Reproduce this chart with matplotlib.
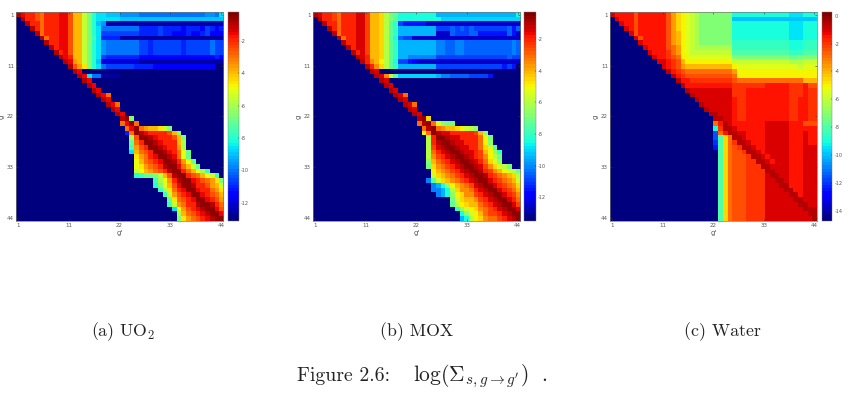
import numpy as np
import matplotlib
matplotlib.use('Agg')
import matplotlib.pyplot as plt

# Scattering matrices, 44 groups. One character per cell, split in blocks of 11.
# The character is an index into level_codes, each step is -0.5 in log scale.
# '.' means no transfer (drawn at the bottom of the colour scale).
level_codes = '0123456789abcdefghijklmnopqrst'

uo2_rows = [
    "23445644433 588bdghhiii jjjjkkkkkkk kkkkkkkjjkh",
    ".2445644433 588bdghhhhh iiiiiiiiiii iiiiiiiiiii",
    "..244644433 588bdgijppp ppppppppppp ppppppppppp",
    "...24644433 588bdghkkkk kkkkmmmmlmm mmnmmmnlmnm",
    "....2644433 588bdghllll llllmmmmlmm nnnmnnmlnnn",
    ".....264433 588bdfhmmmm ppppppppppp ppppppppppp",
    "......24433 588bdghjkkk kkkkllmllll llmlllllkll",
    ".......2433 588bdghjkkk kkkkllmllll llmlllllkll",
    "........243 588bdghjkkk kkkkllmllll llmlllllkll",
    ".........23 488bdghlmmm mmmmnnnnnnn nnnnnnnnnmn",
    "..........2 378bdgioooo ooooppppppp ppppppppppp",
    "........... 2579dghklll lllmmmmnnnn nnnnnnnnn..",
    "........... .23........ ........... ...........",
    "........... ..23hkkpppp ........... ...........",
    "........... ...23...... ........... ...........",
    "........... ....23..... ........... ...........",
    "........... .....23.... ........... ...........",
    "........... ......236.. ........... ...........",
    "........... .......23.. ........... ...........",
    "........... ........236 ........... ...........",
    "........... .........23 ........... ...........",
    "........... ..........2 3.......... ...........",
    "........... ........... 21d........ ...........",
    "........... ........... 6316....... ...........",
    "........... ........... .63167889bd ...........",
    "........... ........... .m612344445 8d.........",
    "........... ........... ..c51123444 58d........",
    "........... ........... ..e64112344 48c........",
    "........... ........... ..f75411234 47c........",
    "........... ........... ..h86541123 46ae.......",
    "........... ........... ...97643112 36ae.......",
    "........... ........... ...a8654311 247ae......",
    "........... ........... ...a9765421 1368be.....",
    "........... ........... ...ba876542 11468acf...",
    "........... ........... ...gfeedb85 21145 68abf.",
    "........... ........... .......fca7 42113456 79d",
    "........... ........... .......gda8 53112445 78b",
    "........... ........... ........fc9 64311344679",
    "........... ........... .........fb 75431134 568",
    "........... ........... ..........e 96543113457",
    "........... ........... ..........f b7644211246",
    "........... ........... ........... ha754321135",
    "........... ........... ........... .c865432113",
    "........... ........... ........... .d976543211",
]

mox_rows = [
    "23445644433 5889cefhhhh hhhhjjjjjjj jjjjjjjjjjh",
    ".2445644433 5889cefhhhh hhhhhiiiiii iiiiiiiiiii",
    "..244644433 5889cfgmnnn nnppppppppp ppppppppppp",
    "...24644433 5889cfgjjjj jjjjmmmlmlm lmmmmmmmlnl",
    "....2644433 5889cfgjjjj jjjjppplmmm llnnnnnnlnp",
    ".....264433 5889cfhlmmp ppppppppppp ppppppppppp",
    "......24433 5889cfgjjjj jjjjkkllkkl lllllllllkl",
    ".......2433 5889cfgjjjj jjjjkkllkkl lllllllllkl",
    "........243 5889cfgjjjj jjjjkkllkkl lllllllllkl",
    ".........23 4889cfgjjkk kkkkmmmmmmm mmmmmmmmlmm",
    "..........2 478acfhmmno ppppppppppp ppppppppppp",
    "........... 2479cfgjjjj jjjjmmmmmmm mmmmmmmnmn.",
    "........... .23........ ........... ...........",
    "........... ..237cfiiii iiiijkkllll mmmmn......",
    "........... ...23...... ........... ...........",
    "........... ....23..... ........... ...........",
    "........... .....23.... ........... ...........",
    "........... ......236.. ........... ...........",
    "........... .......23.. ........... ...........",
    "........... ........236 ........... ...........",
    "........... .........23 ........... ...........",
    "........... ..........2 3.......... ...........",
    "........... ........... 219........ ...........",
    "........... ........... 6216bdee... ...........",
    "........... ........... .62167889ab cd.........",
    "........... ........... .a612334444 458d.......",
    "........... ........... ..c41123344 446ae......",
    "........... ........... ..c42112334 446ad......",
    "........... ........... ..c53211233 4469bf.....",
    "........... ........... ..c64321123 3458adg....",
    "........... ........... ..c75432112 3457ace....",
    "........... ........... ..d86543211 23469bd....",
    "........... ........... ..e97654321 123579bce..",
    "........... ........... ...a8765432 1124578abce",
    "........... ........... ...b9876543 2112456789c",
    "........... ........... ..kfb987654 3211345678b",
    "........... ........... ...kjhda876 53211345679",
    "........... ........... ...kkjhc977 64321134568",
    "........... ........... ....kjhda97 75432113457",
    "........... ........... .......eb98 87543211346",
    "........... ........... .......fca9 88654321135",
    "........... ........... ........gdb a9765432113",
    "........... ........... .........hd ba865543211",
    "........... ........... .........jh ca976654321",
]

water_rows = [
    "23333533333 3579abcdeee eeeeiiiiiii iiiiijjjiii",
    ".2333533333 3579abcdeee eeeekkkkkkk kkkkkkkkkkk",
    "..233533333 3579abcdeee eeeeiiiiiii iiiiijjjiii",
    "...23533333 3579abcdeee eeeeiiiiiii iiiiijjjiii",
    "....2533333 3578abcdeee eeeeiiiiiii iiiiijjjiii",
    ".....253333 3578abcdeee eeeeiiiiiii iiiiijjjiii",
    "......23333 3578abcdeee eeeehhhhhhh hhhhhiiihhh",
    ".......2333 3567abcdddd ddddhhhhhhh hhhhhiiihhh",
    "........233 3467abccccc ccccggggggg ggggghhhggg",
    ".........23 3456aabbbbb bbbbeeeeeee eeeeeffeeee",
    "..........2 23458aaaaaa aaaaccccccc cccccdddccc",
    "........... 23457888888 8888abbbbbb bbbbbbbcbbb",
    "........... .1345666666 66667aaaaaa aaaaaaaaaaa",
    "........... ..134555555 55556aaaaaa aaaaaaaaaaa",
    "........... ...13344444 44445666666 66666666888",
    "........... ....1333333 33334444444 33333444355",
    "........... .....122222 22224443333 33333444344",
    "........... ......12222 22224443333 33333444344",
    "........... .......1222 22223443333 33333443344",
    "........... ........122 22223443333 33333443344",
    "........... .........12 22223443333 33333443344",
    "........... ..........1 12223443333 33333443344",
    "........... ........... 11223443333 33333443344",
    "........... ........... 63123333333 22222333555",
    "........... ........... i4112333333 22222333333",
    "........... ........... n6311223333 22222333233",
    "........... ........... ng961123333 22222333233",
    "........... ........... og964112333 22222333233",
    "........... ........... pg965411233 22222333222",
    "........... ........... .g965541123 22222333222",
    "........... ........... .g965554112 32222333222",
    "........... ........... .g965554411 23222333222",
    "........... ........... .g965554441 12222333222",
    "........... ........... .g965554444 11222333222",
    "........... ........... .g965554444 21122333222",
    "........... ........... .g965554444 22112333222",
    "........... ........... .g965554444 22211333222",
    "........... ........... .g965554444 22221133222",
    "........... ........... .g965554444 22222113222",
    "........... ........... .g965554444 22222211222",
    "........... ........... .g965554444 22222221122",
    "........... ........... .g965554444 22222222111",
    "........... ........... .g965554444 22222222211",
    "........... ........... .g965554444 22222222221",
]

group_labels = ['1', '11', '22', '33', '44']

uo2_range = (-13.1, -0.25)
mox_range = (-13.5, -0.28)
water_range = (-14.7, 0.24)

uo2_ticks = [-2, -4, -6, -8, -10, -12]
mox_ticks = [-2, -4, -6, -8, -10, -12]
water_ticks = [0, -2, -4, -6, -8, -10, -12, -14]

fig_w = 852
fig_h = 400
text_gray = '#555555'

plt.rcParams['mathtext.fontset'] = 'cm'


def decode(rows):
    matrix = np.full((44, 44), -20.0)
    for i, row in enumerate(rows):
        cells = row.replace(' ', '')[:44]
        for j, ch in enumerate(cells):
            if ch != '.':
                matrix[i, j] = -level_codes.index(ch) / 2
    return matrix


def px_axes(fig, left, right, top=12.3, bottom=220.7):
    return fig.add_axes([left / fig_w, 1 - bottom / fig_h,
                         (right - left) / fig_w, (bottom - top) / fig_h])


def draw_panel(fig, rows, limits, ticks, ax_left, ax_right, bar_left, bar_right):
    ax = px_axes(fig, ax_left, ax_right)
    im = ax.imshow(decode(rows), cmap=plt.get_cmap('jet', 64), vmin=limits[0], vmax=limits[1],
                   extent=(0.5, 44.5, 44.5, 0.5), aspect='auto', interpolation='nearest')

    tick_pos = np.linspace(1, 44, 5)
    ax.set_xticks(tick_pos, group_labels)
    ax.set_yticks(tick_pos, group_labels)
    ax.tick_params(direction='in', length=1.5, width=0.4, color='#333333', top=True, right=True,
                   labelsize=4, labelcolor=text_gray, pad=1.5)
    for spine in ax.spines.values():
        spine.set_linewidth(0.5)
        spine.set_color('#777777')

    ax.set_xlabel("g'", fontsize=5, color=text_gray, labelpad=1.5)
    ax.set_ylabel('g', fontsize=5, color=text_gray, labelpad=-2)
    ax.yaxis.set_label_coords(-0.055, 0.5)

    # colour bar sits in its own axes right next to the matrix
    cax = px_axes(fig, bar_left, bar_right)
    bar = fig.colorbar(im, cax=cax, ticks=ticks)
    bar.ax.set_yticklabels([str(t) for t in ticks])
    bar.ax.tick_params(direction='in', length=1, width=0.3, labelsize=3.5,
                       labelcolor=text_gray, pad=1.5)
    bar.outline.set_linewidth(0.3)
    bar.outline.set_edgecolor('#777777')


def main():
    fig = plt.figure(figsize=(fig_w / 100, fig_h / 100), dpi=100)

    draw_panel(fig, uo2_rows, uo2_range, uo2_ticks, 16, 223.3, 227.7, 238.7)
    draw_panel(fig, mox_rows, mox_range, mox_ticks, 312.7, 520, 524.3, 535.7)
    draw_panel(fig, water_rows, water_range, water_ticks, 610, 816.7, 821.7, 832.3)

    # sub captions and the figure caption
    fig.text(123.5 / fig_w, 1 - 332 / fig_h, r'(a) UO$_2$', family='cmr10', fontsize=12.8,
             ha='center', va='center', color='#222222')
    fig.text(417 / fig_w, 1 - 332 / fig_h, '(b) MOX', family='cmr10', fontsize=12.8,
             ha='center', va='center', color='#222222')
    fig.text(722 / fig_w, 1 - 332 / fig_h, '(c) Water', family='cmr10', fontsize=12.8,
             ha='center', va='center', color='#222222')
    fig.text(297 / fig_w, 1 - 376 / fig_h, 'Figure 2.6:', family='cmr10', fontsize=14.3,
             ha='left', va='center', color='#222222')
    fig.text(413 / fig_w, 1 - 376 / fig_h, r"$\log(\Sigma_{s,g\rightarrow g'})\ \ .$", fontsize=15.5,
             ha='left', va='center', color='#222222')

    fig.savefig('out.png', dpi=100)


if __name__ == '__main__':
    main()
